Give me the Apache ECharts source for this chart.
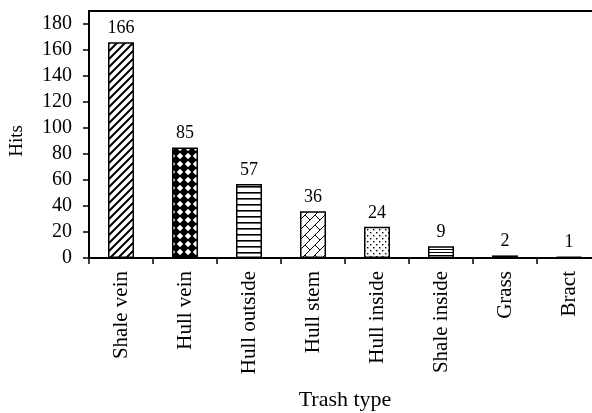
<!DOCTYPE html>
<html>
<head>
<meta charset="utf-8">
<script src="https://cdn.jsdelivr.net/npm/echarts@6/dist/echarts.min.js"></script>
<style>html,body{margin:0;padding:0;background:#fff;overflow:hidden}#c{width:592px;height:413px}</style>
</head>
<body>
<div id="c"></div>
<script>
var categories = ['Shale vein','Hull vein','Hull outside','Hull stem','Hull inside','Shale inside','Grass','Bract'];
var hits = [166, 85, 57, 36, 24, 9, 2, 1];
var yTicks = [0, 20, 40, 60, 80, 100, 120, 140, 160, 180];

function tile(w, h, draw) {
  var c = document.createElement('canvas');
  c.width = w; c.height = h;
  var g = c.getContext('2d');
  g.fillStyle = '#fff'; g.fillRect(0, 0, w, h);
  g.fillStyle = '#000'; g.strokeStyle = '#000';
  draw(g, w, h);
  return {image: c, repeat: 'repeat'};
}
function diamond(g, cx, cy, r) {
  g.beginPath(); g.moveTo(cx, cy - r); g.lineTo(cx + r, cy); g.lineTo(cx, cy + r); g.lineTo(cx - r, cy); g.closePath(); g.fill();
}
var patterns = [
  tile(8, 8, function (g) { g.lineWidth = 2; g.beginPath();
    g.moveTo(-2, 10); g.lineTo(10, -2); g.moveTo(-2, 2); g.lineTo(2, -2); g.moveTo(6, 10); g.lineTo(10, 6); g.stroke(); }),
  tile(8, 8, function (g) { var r = 4.8;
    diamond(g, 0, 0, r); diamond(g, 8, 0, r); diamond(g, 0, 8, r); diamond(g, 8, 8, r); }),
  tile(4, 6, function (g) { g.fillRect(0, 0, 4, 1.6); }),
  tile(10, 10, function (g) { g.lineWidth = 1; g.beginPath();
    g.moveTo(-1, 11); g.lineTo(11, -1); g.moveTo(-1, 1); g.lineTo(1, -1); g.moveTo(9, 11); g.lineTo(11, 9);
    g.moveTo(5, 5); g.lineTo(10, 10); g.stroke(); }),
  tile(6, 6, function (g) { g.fillRect(1, 1, 1.4, 1.4); g.fillRect(4, 4, 1.4, 1.4); }),
  tile(4, 3, function (g) { g.fillRect(0, 0, 4, 1); }),
  tile(4, 3, function (g) { g.fillRect(0, 0, 4, 1); }),
  tile(4, 3, function (g) { g.fillRect(0, 0, 4, 1); })
];

var chart = echarts.init(document.getElementById('c'), null, {renderer: 'canvas'});
var font = 'Liberation Serif';
chart.setOption({
  animation: false,
  backgroundColor: '#fff',
  textStyle: {fontFamily: font, color: '#000'},
  grid: {left: 89, top: 24, bottom: 155, right: -9, containLabel: false, outerBoundsMode: 'none'},
  xAxis: {
    type: 'category',
    data: categories,
    name: 'Trash type',
    nameLocation: 'middle',
    nameGap: 131,
    nameTextStyle: {fontFamily: font, fontSize: 22, color: '#000'},
    axisLine: {lineStyle: {color: '#000', width: 2}},
    axisTick: {show: true, alignWithLabel: false, length: 6, lineStyle: {color: '#000', width: 1.5}},
    axisLabel: {rotate: 90, interval: 0, margin: 13, fontFamily: font, fontSize: 21, color: '#000'}
  },
  yAxis: {
    type: 'value',
    min: 0, max: 180, interval: 20,
    name: 'Hits',
    nameLocation: 'middle',
    nameGap: 62,
    nameTextStyle: {fontFamily: font, fontSize: 19, color: '#000'},
    axisLine: {show: true, lineStyle: {color: '#000', width: 2}},
    axisTick: {show: true, length: 6, lineStyle: {color: '#000', width: 1.5}},
    axisLabel: {margin: 17, fontFamily: font, fontSize: 20, color: '#000',
      formatter: function (v) { return yTicks.indexOf(v) >= 0 ? String(v) : ''; }},
    splitLine: {show: false}
  },
  graphic: [
    {type: 'line', shape: {x1: 89, y1: 11, x2: 592, y2: 11}, style: {stroke: '#000', lineWidth: 2}},
    {type: 'line', shape: {x1: 89, y1: 10, x2: 89, y2: 25}, style: {stroke: '#000', lineWidth: 2}}
  ],
  series: [{
    type: 'bar',
    barWidth: 26,
    data: hits.map(function (v, i) { return {value: v, itemStyle: {color: patterns[i]}}; }),
    itemStyle: {borderColor: '#000', borderWidth: 1.5},
    label: {show: true, position: 'top', distance: 5, fontFamily: font, fontSize: 18, color: '#000'}
  }]
});
</script>
</body>
</html>
